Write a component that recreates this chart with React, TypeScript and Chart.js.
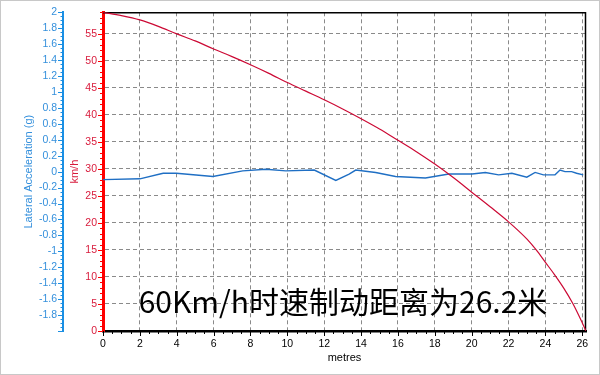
import React, { useEffect, useRef } from "react";
import { Chart, registerables } from "chart.js";

Chart.register(...registerables);

// ---- data ----
const speedDistance = [0, 1, 2, 3, 4, 5, 6, 7, 8, 9, 10, 11, 12, 13, 14, 15, 16, 17, 18, 19, 20, 21, 22, 23, 23.5, 24, 24.5, 25, 25.5, 26, 26.2];
const speedKmh = [59, 58.4, 57.6, 56.4, 55, 53.7, 52.2, 50.8, 49.3, 47.7, 46.0, 44.4, 42.8, 41.1, 39.3, 37.4, 35.3, 33.2, 30.9, 28.4, 25.7, 23.0, 20.2, 17.0, 15.0, 12.7, 10.4, 7.9, 5.0, 1.5, 0];

const latDistance = [0, 2, 3.26, 3.98, 5.96, 7.58, 8.84, 9.92, 11.46, 12.63, 13.35, 13.71, 14.79, 15.87, 17.49, 18.76, 20.02, 20.74, 21.46, 22.18, 22.99, 23.44, 23.89, 24.52, 24.79, 25.06, 25.42, 25.69, 26.05];
const latG = [-0.1, -0.09, -0.02, -0.02, -0.06, 0.01, 0.03, 0.01, 0.02, -0.11, -0.03, 0.02, -0.01, -0.06, -0.08, -0.03, -0.03, -0.01, -0.04, -0.02, -0.07, -0.01, -0.04, -0.04, 0.02, 0.0, 0.0, -0.02, -0.04];

const xTicks = [0, 2, 4, 6, 8, 10, 12, 14, 16, 18, 20, 22, 24, 26];
const speedTicks = [0, 5, 10, 15, 20, 25, 30, 35, 40, 45, 50, 55];
const latTicks = [-1.8, -1.6, -1.4, -1.2, -1, -0.8, -0.6, -0.4, -0.2, 0, 0.2, 0.4, 0.6, 0.8, 1, 1.2, 1.4, 1.6, 1.8, 2];

const caption = "60Km/h时速制动距离为26.2米";
const xTitle = "metres";
const speedTitle = "km/h";
const latTitle = "Lateral Acceleration (g)";

const BLUE_AXIS = "#1a8fe3";
const BLUE_TEXT = "#3590dc";
const BLUE_LINE = "#1f6fc4";
const RED_AXIS = "#ff0000";
const RED_TEXT = "#d81b3c";
const RED_LINE = "#cc0a35";
const TICK_FONT = { family: "'Liberation Sans', Arial, sans-serif", size: 10.5 };
const TITLE_FONT = { family: "'Liberation Sans', Arial, sans-serif", size: 11 };

const decorPlugin = {
  id: "decor",
  beforeDatasetsDraw(chart: any) {
    const ctx = chart.ctx;
    const { left, right, top, bottom } = chart.chartArea;
    ctx.save();
    ctx.strokeStyle = "#000";
    ctx.lineWidth = 1.5;
    ctx.beginPath();
    ctx.moveTo(left, top + 0.5);
    ctx.lineTo(right - 0.5, top + 0.5);
    ctx.lineTo(right - 0.5, bottom);
    ctx.stroke();
    ctx.restore();
  },
  afterDraw(chart: any) {
    const ctx = chart.ctx;
    const { bottom } = chart.chartArea;
    const x = chart.scales.x;
    const yS = chart.scales.yS;
    const yL = chart.scales.yL;
    ctx.save();
    // blue axis ticks
    ctx.strokeStyle = BLUE_AXIS;
    ctx.lineWidth = 1;
    const bx = yL.right;
    for (let i = -40; i <= 40; i++) {
      const v = i * 0.05;
      const py = Math.round(yL.getPixelForValue(v)) + 0.5;
      const len = i % 4 === 0 ? 5 : 2.5;
      ctx.beginPath();
      ctx.moveTo(bx - len, py);
      ctx.lineTo(bx, py);
      ctx.stroke();
    }
    // red axis ticks
    ctx.strokeStyle = RED_AXIS;
    const rx = yS.right;
    for (let v = 0; v <= 59; v++) {
      const py = Math.round(yS.getPixelForValue(v)) + 0.5;
      const len = v % 5 === 0 ? 5 : 3;
      ctx.beginPath();
      ctx.moveTo(rx - len, py);
      ctx.lineTo(rx, py);
      ctx.stroke();
    }
    // x ticks
    ctx.strokeStyle = "#000";
    for (let i = 0; i <= 52; i++) {
      const v = i * 0.5;
      const px = Math.round(x.getPixelForValue(v)) + 0.5;
      const len = i % 4 === 0 ? 5 : 3;
      ctx.beginPath();
      ctx.moveTo(px, bottom);
      ctx.lineTo(px, bottom + len);
      ctx.stroke();
    }
    // caption
    ctx.fillStyle = "#000";
    ctx.font = "30px 'Noto Sans CJK SC', sans-serif";
    ctx.textAlign = "center";
    ctx.textBaseline = "alphabetic";
    ctx.fillText(caption, 343, 313);
    // outer border
    ctx.strokeStyle = "#c8c8c8";
    ctx.lineWidth = 1;
    ctx.strokeRect(0.5, 0.5, chart.width - 1, chart.height - 1);
    ctx.restore();
  },
};

export default function App() {
  const ref = useRef<HTMLCanvasElement | null>(null);
  useEffect(() => {
    if (!ref.current) return;
    const chart = new Chart(ref.current, {
      type: "line",
      data: {
        datasets: [
          {
            label: "Speed",
            data: speedDistance.map((d, i) => ({ x: d, y: speedKmh[i] })),
            borderColor: RED_LINE,
            borderWidth: 1.2,
            pointRadius: 0,
            cubicInterpolationMode: "monotone",
            yAxisID: "yS",
          },
          {
            label: "Lateral",
            data: latDistance.map((d, i) => ({ x: d, y: latG[i] })),
            borderColor: BLUE_LINE,
            borderWidth: 1.4,
            pointRadius: 0,
            tension: 0,
            yAxisID: "yL",
          },
        ],
      },
      options: {
        responsive: false,
        animation: false,
        events: [],
        layout: { padding: { left: 0, top: 12, right: 14, bottom: 0 } },
        plugins: { legend: { display: false }, tooltip: { enabled: false } },
        scales: {
          x: {
            type: "linear",
            min: 0,
            max: 26.2,
            afterFit: (s: any) => { s.height = 44; },
            afterBuildTicks: (s: any) => { s.ticks = xTicks.map((v) => ({ value: v })); },
            ticks: { font: TICK_FONT, color: "#000", padding: 7, autoSkip: false, maxRotation: 0, includeBounds: false },
            grid: { color: "#8a8a8a", lineWidth: 1, drawTicks: false },
            border: { display: true, color: "#000", width: 2.5, dash: [4, 3] },
            title: { display: true, text: xTitle, font: TITLE_FONT, color: "#000", padding: { top: 0, bottom: 10 } },
          },
          yL: {
            type: "linear",
            position: "left",
            weight: 1,
            min: -2,
            max: 2,
            afterFit: (s: any) => { s.width = 63; },
            afterBuildTicks: (s: any) => { s.ticks = latTicks.map((v) => ({ value: v })); },
            ticks: {
              font: TICK_FONT,
              color: BLUE_TEXT,
              padding: 6,
              autoSkip: false,
              callback: (v: any) => String(Math.round(Number(v) * 10) / 10),
            },
            grid: { display: false, drawTicks: false },
            border: { display: true, color: BLUE_AXIS, width: 2 },
            title: { display: true, text: latTitle, font: TITLE_FONT, color: BLUE_TEXT, padding: { top: 22, bottom: 0 } },
          },
          yS: {
            type: "linear",
            position: "left",
            weight: 0,
            min: 0,
            max: 59,
            afterFit: (s: any) => { s.width = 40; },
            afterBuildTicks: (s: any) => { s.ticks = speedTicks.map((v) => ({ value: v })); },
            ticks: { font: TICK_FONT, color: RED_TEXT, padding: 6, autoSkip: false },
            grid: { color: "#8a8a8a", lineWidth: 1, drawTicks: false },
            border: { display: true, color: RED_AXIS, width: 3, dash: [4, 3] },
            title: { display: true, text: speedTitle, font: TITLE_FONT, color: RED_TEXT, padding: { top: 5, bottom: 0 } },
          },
        },
      },
      plugins: [decorPlugin],
    } as any);
    return () => chart.destroy();
  }, []);
  return (
    <div style={{ position: "fixed", left: 0, top: 0, width: 600, height: 375, background: "#fff" }}>
      <canvas ref={ref} width={600} height={375} style={{ display: "block" }} />
    </div>
  );
}
